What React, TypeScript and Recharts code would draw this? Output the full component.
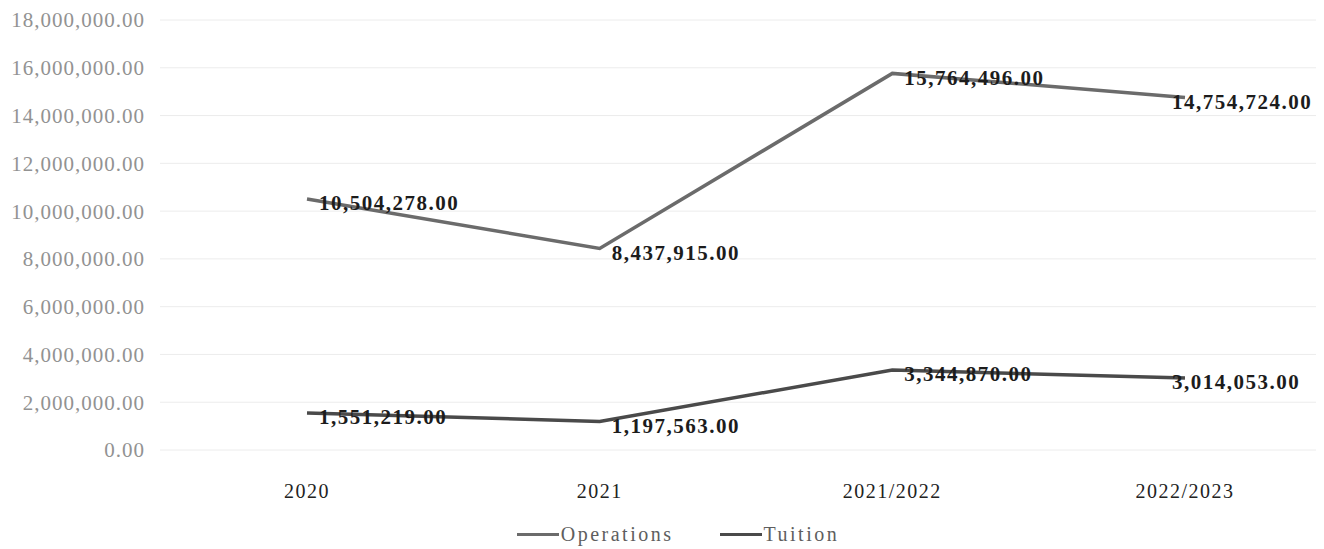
import { CartesianGrid, LabelList, Legend, Line, LineChart, XAxis, YAxis } from 'recharts'

const years = ['2020', '2021', '2021/2022', '2022/2023']
const operations = [10504278, 8437915, 15764496, 14754724]
const tuition = [1551219, 1197563, 3344870, 3014053]
const yTicks = [0, 2000000, 4000000, 6000000, 8000000, 10000000, 12000000, 14000000, 16000000, 18000000]

const data = years.map((year, i) => ({ year, operations: operations[i], tuition: tuition[i] }))

const serif = '"Liberation Serif", "DejaVu Serif", serif'

function money(value: number) {
  return value.toLocaleString('en-US', { minimumFractionDigits: 2, maximumFractionDigits: 2 })
}

function PointLabel(props: any) {
  const { x, y, value } = props
  // keep the last label inside the right edge
  const left = Math.min(x + 12, 1172)
  return (
    <text
      x={left}
      y={y + 4}
      dy="0.35em"
      fill="#1c1c1c"
      fontFamily={serif}
      fontSize={21}
      fontWeight="bold"
      letterSpacing={1.5}
    >
      {money(value)}
    </text>
  )
}

const legendItems = [
  { name: 'Operations', color: '#6b6b6b' },
  { name: 'Tuition', color: '#4a4a4a' },
]

function ChartLegend() {
  return (
    <div
      style={{
        display: 'flex',
        justifyContent: 'center',
        gap: 46,
        paddingTop: 14,
        paddingLeft: 40,
        fontFamily: serif,
        fontSize: 20,
        letterSpacing: 2.5,
        color: '#5e5e5e',
      }}
    >
      {legendItems.map((item) => (
        <div key={item.name} style={{ display: 'flex', alignItems: 'center' }}>
          <span style={{ display: 'inline-block', width: 42, height: 3, background: item.color, marginRight: 2 }} />
          {item.name}
        </div>
      ))}
    </div>
  )
}

export default function App() {
  return (
    <div style={{ position: 'absolute', left: 0, top: 0, background: '#fff' }}>
      <LineChart width={1324} height={549} data={data} margin={{ top: 20, right: 8, bottom: 0, left: 0 }}>
        <CartesianGrid vertical={false} stroke="#ececec" />
        <XAxis
          dataKey="year"
          axisLine={false}
          tickLine={false}
          height={59}
          tickMargin={28}
          padding={{ left: 147, right: 131 }}
          tick={{ fill: '#222', fontFamily: serif, fontSize: 20, letterSpacing: 1.5 }}
        />
        <YAxis
          domain={[0, 18000000]}
          ticks={yTicks}
          width={160}
          axisLine={false}
          tickLine={false}
          tickMargin={9}
          tickFormatter={money}
          tick={{ fill: '#929292', fontFamily: serif, fontSize: 21, letterSpacing: 1 }}
        />
        <Legend verticalAlign="bottom" height={40} content={<ChartLegend />} />
        <Line
          dataKey="operations"
          name="Operations"
          stroke="#6b6b6b"
          strokeWidth={3.5}
          dot={false}
          isAnimationActive={false}
        >
          <LabelList dataKey="operations" content={<PointLabel />} />
        </Line>
        <Line
          dataKey="tuition"
          name="Tuition"
          stroke="#4a4a4a"
          strokeWidth={3.5}
          dot={false}
          isAnimationActive={false}
        >
          <LabelList dataKey="tuition" content={<PointLabel />} />
        </Line>
      </LineChart>
    </div>
  )
}
